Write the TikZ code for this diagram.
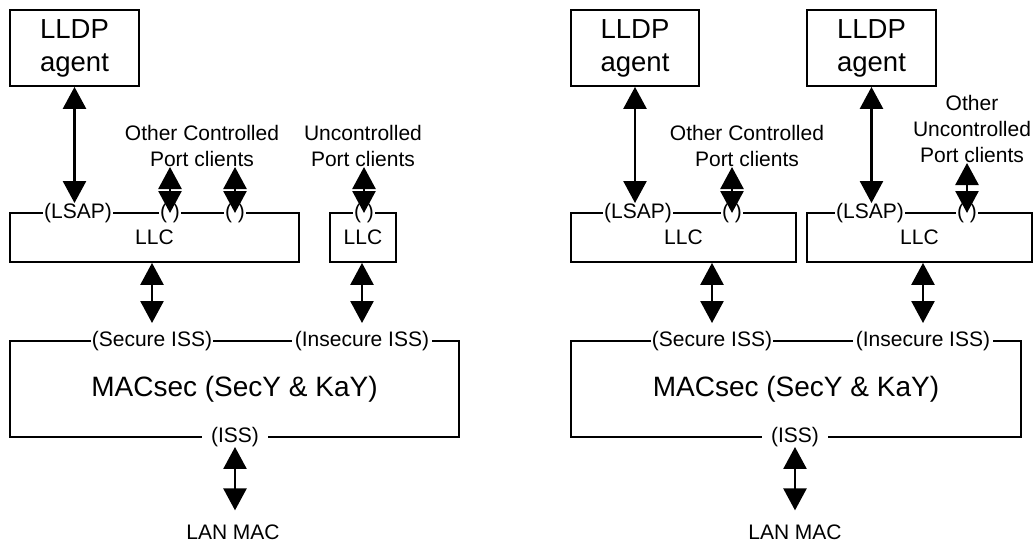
\documentclass[tikz,border=0pt]{standalone}
\usepackage{fontspec}
\setmainfont{Liberation Sans}
\usetikzlibrary{arrows.meta}

\begin{document}
\begin{tikzpicture}[
    x=1pt, y=-1pt,
    small/.style={font=\fontsize{21}{26}\selectfont},
    layer/.style={rectangle,draw,line width=1.8pt,inner sep=0pt,small},
    agent/.style={layer,minimum width=129pt,minimum height=76pt,align=center,
      font=\fontsize{27.5}{33}\selectfont},
    sap/.style={fill=white,inner xsep=1pt,inner ysep=0pt,small},
    clients/.style={anchor=south,inner sep=0pt,align=center,small},
    txt/.style={inner sep=0pt,small},
    dbl/.style={<->,>={Triangle[length=22pt,width=23pt]},line width=2.6pt}
  ]
    \useasboundingbox (0,0) rectangle (1034,544);

    % left station
    \node[agent] (agentA) at (74.5,48) {LLDP\\agent};
    \node[layer,minimum width=289pt,minimum height=49pt] (llcA) at (154.5,237.5) {LLC};
    \node[layer,minimum width=66pt,minimum height=49pt]  (llcB) at (363,237.5) {LLC};
    \node[layer,minimum width=449pt,minimum height=96pt,font=\fontsize{28}{34}\selectfont]
      (macA) at (234.5,389) {MACsec (SecY \& KaY)};

    \node[sap] (lsapA)  at (78,213)  {(LSAP)};
    \node[sap] (portA1) at (170,213) {( )};
    \node[sap] (portA2) at (235,213) {( )};
    \node[sap] (portB)  at (364,213) {( )};
    \node[sap] (secA)   at (152,341) {(Secure ISS)};
    \node[sap,inner xsep=3pt] (insA) at (362,341) {(Insecure ISS)};
    \node[sap,inner xsep=9pt] (issA) at (235,437) {(ISS)};

    \node[clients] (ctrlA) at (202,167) {Other Controlled\\Port clients};
    \node[clients] (uncA)  at (363,167) {Uncontrolled\\Port clients};
    \node[txt]     (lanA)  at (233,532) {LAN MAC};

    \draw[dbl] (agentA.south) -- (agentA.south |- lsapA.north);
    \draw[dbl] (ctrlA.south -| portA1) -- (portA1.center);
    \draw[dbl] (ctrlA.south -| portA2) -- (portA2.center);
    \draw[dbl] (uncA.south -| portB) -- (portB.center);
    \draw[dbl,shorten >=8pt] (llcA.south -| secA) -- (secA.north);
    \draw[dbl,shorten >=8pt] (llcB.south -| insA) -- (insA.north);
    \draw[dbl,shorten >=14pt] (issA.south) -- (issA.south |- lanA.north);

    % right station
    \node[agent,minimum width=128pt] (agentB) at (635,48) {LLDP\\agent};
    \node[agent] (agentC) at (871.5,48) {LLDP\\agent};
    \node[layer,minimum width=225pt,minimum height=49pt] (llcC) at (683.5,237.5) {LLC};
    \node[layer,minimum width=225pt,minimum height=49pt] (llcD) at (919.5,237.5) {LLC};
    \node[layer,minimum width=450pt,minimum height=96pt,font=\fontsize{28}{34}\selectfont]
      (macB) at (796,389) {MACsec (SecY \& KaY)};

    \node[sap] (lsapB) at (638,213) {(LSAP)};
    \node[sap] (portC) at (732,213) {( )};
    \node[sap] (lsapC) at (870,213) {(LSAP)};
    \node[sap] (portD) at (967,213) {( )};
    \node[sap] (secB)  at (712,341) {(Secure ISS)};
    \node[sap,inner xsep=3pt] (insB) at (923,341) {(Insecure ISS)};
    \node[sap,inner xsep=9pt] (issB) at (795,437) {(ISS)};

    \node[clients] (ctrlB) at (747,167) {Other Controlled\\Port clients};
    \node[clients] (uncB)  at (972,163) {Other\\Uncontrolled\\Port clients};
    \node[txt]     (lanB)  at (795,532) {LAN MAC};

    \draw[dbl] (agentB.south) -- (agentB.south |- lsapB.north);
    \draw[dbl] (agentC.south) -- (agentC.south |- lsapC.north);
    \draw[dbl] (ctrlB.south -| portC) -- (portC.center);
    \draw[dbl] (uncB.south -| portD) -- (portD.center);
    \draw[dbl,shorten >=8pt] (llcC.south -| secB) -- (secB.north);
    \draw[dbl,shorten >=8pt] (llcD.south -| insB) -- (insB.north);
    \draw[dbl,shorten >=14pt] (issB.south) -- (issB.south |- lanB.north);
\end{tikzpicture}
\end{document}
